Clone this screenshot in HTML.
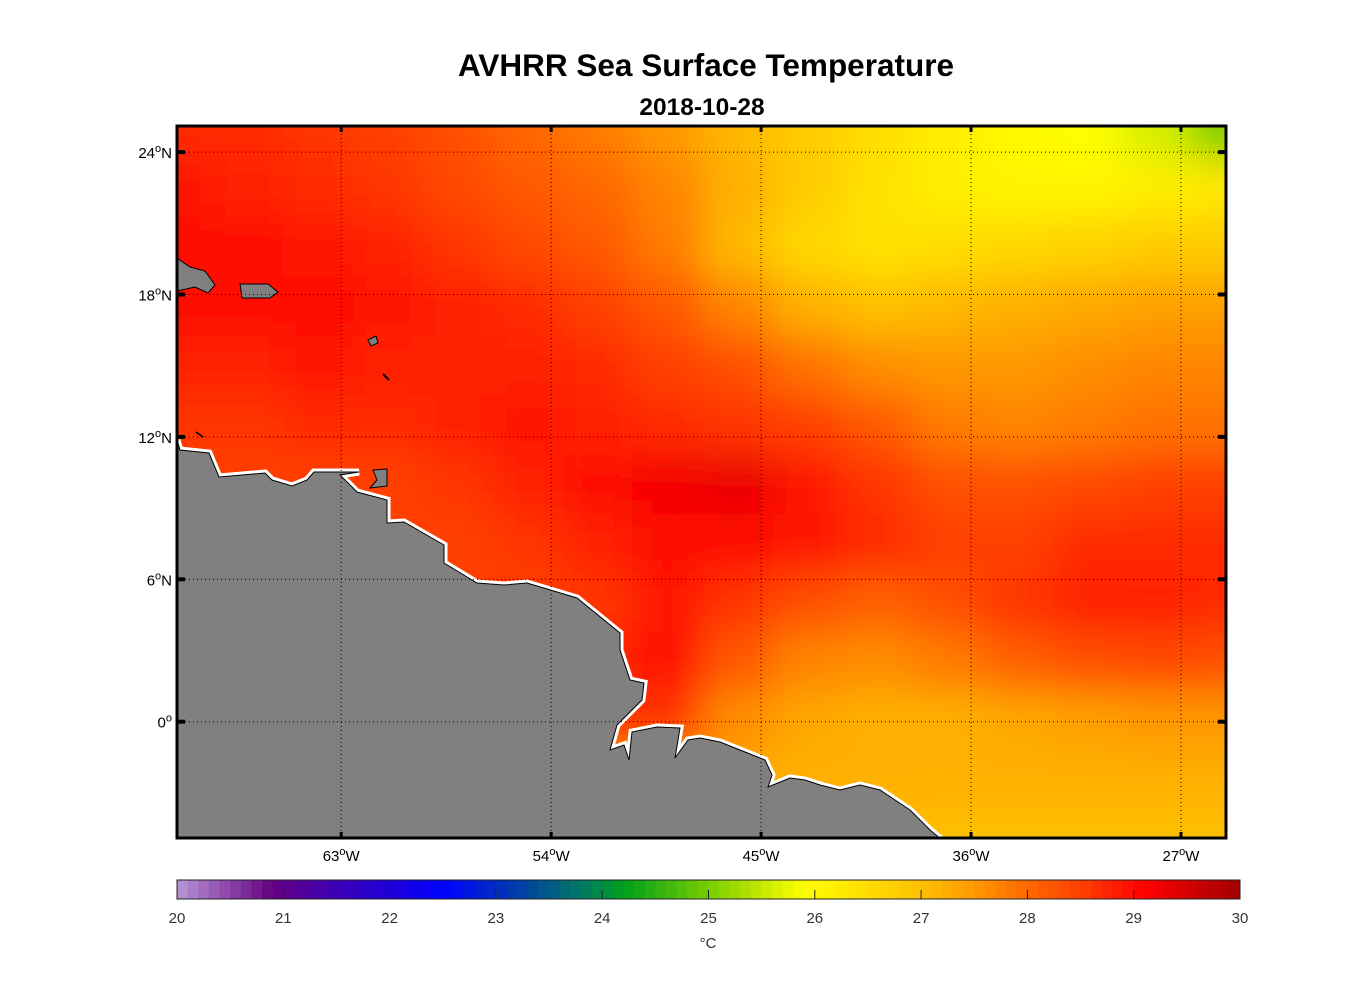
<!DOCTYPE html>
<html><head><meta charset="utf-8"><style>
html,body{margin:0;padding:0;background:#fff;}
svg{display:block;font-family:"Liberation Sans",sans-serif;}
</style></head><body>
<svg id="chart" width="1356" height="1000" viewBox="0 0 1356 1000">
<defs>
<clipPath id="mapclip"><rect x="177" y="126" width="1049" height="712"/></clipPath>
<filter id="blur" x="-10%" y="-10%" width="120%" height="120%"><feGaussianBlur stdDeviation="20"/></filter>
</defs>
<text x="706" y="76" text-anchor="middle" font-size="31.5" font-weight="bold">AVHRR Sea Surface Temperature</text>
<text x="702" y="115" text-anchor="middle" font-size="24.5" font-weight="bold">2018-10-28</text>
<g id="heat" clip-path="url(#mapclip)"><g id="cells" filter="url(#blur)"></g></g>
<g id="land" clip-path="url(#mapclip)">
<polygon points="177,440 180,450 209,453 219,477 265,473 272,480 292,486 307,480 314,472 359,472 340,475 357,492 387,500 387,523 404,522 444,545 444,563 477,583 504,585 527,583 577,598 620,633 620,650 630,680 644,683 642,700 617,725 610,750 624,745 629,760 632,732 657,727 680,728 675,758 688,740 700,738 720,742 745,752 765,760 772,775 768,787 790,778 805,780 820,785 840,790 860,785 880,790 895,800 910,810 930,830 942,840 177,840" fill="#808080" stroke="#fff" stroke-width="7" stroke-linejoin="miter"/>
<polygon points="177,440 180,450 209,453 219,477 265,473 272,480 292,486 307,480 314,472 359,472 340,475 357,492 387,500 387,523 404,522 444,545 444,563 477,583 504,585 527,583 577,598 620,633 620,650 630,680 644,683 642,700 617,725 610,750 624,745 629,760 632,732 657,727 680,728 675,758 688,740 700,738 720,742 745,752 765,760 772,775 768,787 790,778 805,780 820,785 840,790 860,785 880,790 895,800 910,810 930,830 942,840 177,840" fill="#808080" stroke="#000" stroke-width="1"/>
<polygon points="373,470 387,469 387,486 370,488 377,480" fill="#808080" stroke="#000" stroke-width="1"/>
<polygon points="177,258 190,267 205,271 215,285 208,293 195,287 177,291" fill="#808080" stroke="#000" stroke-width="1"/>
<polygon points="240,284 268,284 278,292 270,298 242,298" fill="#808080" stroke="#000" stroke-width="1"/>
<polygon points="368,340 376,336 378,343 371,346" fill="#808080" stroke="#000" stroke-width="1"/>
<line x1="383" y1="374" x2="389" y2="380" stroke="#000" stroke-width="2"/>
<line x1="196" y1="432" x2="203" y2="437" stroke="#000" stroke-width="1.5"/>
</g>
<g id="grid"></g>
<rect x="177" y="126" width="1049" height="712" fill="none" stroke="#000" stroke-width="3"/>
<g id="axes"></g>
<g id="cbar"></g>
<text x="708" y="948" text-anchor="middle" font-size="15" fill="#333">°C</text>
</svg>
<script>
const lons = [-70,-67,-64,-61,-58,-55,-52,-49,-46,-43,-40,-37,-34,-31,-28,-25];
const lats = [25,22.5,20,17.5,15,12.5,10,7.5,5,2.5,0,-2.5,-5];
const sstRow0  = [28.7,28.7,28.6,28.5,28.3,28.0,27.8,27.5,27.1,26.8,26.5,26.2,26.0,25.9,25.6,25.0];
const sstRow1  = [28.9,28.8,28.7,28.6,28.4,28.2,28.0,27.7,27.2,26.8,26.4,26.2,26.1,26.1,26.2,26.3];
const sstRow2  = [29.0,29.0,28.9,28.8,28.6,28.4,28.2,27.8,27.1,26.6,26.4,26.5,26.6,26.7,26.8,26.8];
const sstRow3  = [29.0,29.0,29.0,28.9,28.8,28.7,28.5,28.2,27.7,27.2,27.0,27.1,27.2,27.3,27.4,27.4];
const sstRow4  = [28.8,28.8,28.9,28.8,28.8,28.8,28.7,28.5,28.3,27.9,27.6,27.5,27.5,27.6,27.7,27.7];
const sstRow5  = [28.6,28.6,28.7,28.7,28.8,28.9,28.8,28.7,28.6,28.5,28.2,27.8,27.7,27.8,27.9,27.9];
const sstRow6  = [28.5,28.5,28.5,28.5,28.6,28.8,29.0,29.2,29.3,28.9,28.6,28.3,28.3,28.4,28.5,28.5];
const sstRow7  = [28.5,28.5,28.5,28.5,28.5,28.6,28.8,29.0,29.0,28.9,28.7,28.5,28.5,28.7,28.7,28.7];
const sstRow8  = [28.5,28.5,28.5,28.5,28.5,28.5,28.6,28.9,28.6,28.3,28.1,28.3,28.6,28.8,28.8,28.7];
const sstRow9  = [28.5,28.5,28.5,28.5,28.5,28.5,28.7,29.0,28.2,27.7,27.6,27.8,28.1,28.3,28.4,28.3];
const sstRow10 = [28.5,28.5,28.5,28.5,28.5,28.5,28.6,28.6,27.6,27.3,27.2,27.2,27.3,27.4,27.5,27.5];
const sstRow11 = [27.3,27.3,27.3,27.3,27.3,27.3,27.3,27.3,27.3,27.2,27.2,27.2,27.2,27.2,27.2,27.2];
const sstRow12 = [27.1,27.1,27.1,27.1,27.1,27.1,27.1,27.1,27.1,27.1,27.1,27.0,27.0,27.0,27.0,27.0];
const sst = [sstRow0,sstRow1,sstRow2,sstRow3,sstRow4,sstRow5,sstRow6,sstRow7,sstRow8,sstRow9,sstRow10,sstRow11,sstRow12];
const lonTicks = [-63,-54,-45,-36,-27];
const latTicks = [24,18,12,6,0];
const lonTickLabels = ["63","54","45","36","27"];
const latTickLabels = ["24","18","12","6","0"];
const cbTicks = [20,21,22,23,24,25,26,27,28,29,30];

const NS="http://www.w3.org/2000/svg";
const X0=177,X1=1226,Y0=126,Y1=838;
const lonMin=-70.04, lonMax=-25.07, latMax=25.1, latMin=-4.9;
const xS = lon => X0 + (lon-lonMin)/(lonMax-lonMin)*(X1-X0);
const yS = lat => Y0 + (latMax-lat)/(latMax-latMin)*(Y1-Y0);
const stops=[[20,[184,150,214]],[20.9,[100,0,130]],[21.5,[60,0,180]],[22.5,[0,0,255]],[23.2,[0,60,170]],[23.8,[0,120,100]],[24.2,[0,160,30]],[25,[120,205,0]],[25.9,[255,255,0]],[27,[255,192,0]],[27.5,[255,152,0]],[28,[255,104,0]],[28.5,[255,64,0]],[29.1,[255,0,0]],[30,[160,0,0]]];
function cmap(v){
  if(v<=stops[0][0]) return `rgb(${stops[0][1]})`;
  for(let i=1;i<stops.length;i++){ if(v<=stops[i][0]){const a=stops[i-1],b=stops[i];const t=(v-a[0])/(b[0]-a[0]);
    return `rgb(${a[1].map((c,k)=>Math.round(c+(b[1][k]-c)*t)).join(',')})`;}}
  return `rgb(${stops[stops.length-1][1]})`;
}
const cells=document.getElementById('cells');
const dlon=3, dlat=2.5;
for(let r=0;r<lats.length;r++){for(let c=0;c<lons.length;c++){
  let xa=xS(lons[c]-dlon/2), xb=xS(lons[c]+dlon/2), ya=yS(lats[r]+dlat/2), yb=yS(lats[r]-dlat/2);
  if(c===0) xa-=80; if(c===lons.length-1) xb+=80; if(r===0) ya-=80; if(r===lats.length-1) yb+=80;
  const el=document.createElementNS(NS,'rect');
  
  
  el.setAttribute('x',xa);el.setAttribute('y',ya);el.setAttribute('width',xb-xa+0.5);el.setAttribute('height',yb-ya+0.5);
  el.setAttribute('fill',cmap(sst[r][c]));cells.appendChild(el);
}}
const grid=document.getElementById('grid'), axes=document.getElementById('axes');
function ln(p,x1,y1,x2,y2,st,w,dash){const e=document.createElementNS(NS,'line');e.setAttribute('x1',x1);e.setAttribute('y1',y1);e.setAttribute('x2',x2);e.setAttribute('y2',y2);e.setAttribute('stroke',st);e.setAttribute('stroke-width',w);if(dash)e.setAttribute('stroke-dasharray',dash);p.appendChild(e);return e;}
lonTicks.forEach((lo,i)=>{const x=xS(lo);
  const g=ln(grid,x,Y0,x,Y1,'#000',1,'1,3');
  
  ln(axes,x,Y0,x,Y0+6,'#000',3);ln(axes,x,Y1,x,Y1-6,'#000',3);
  const t=document.createElementNS(NS,'text');
  
  
  t.setAttribute('x',x);t.setAttribute('y',861);t.setAttribute('text-anchor','middle');t.setAttribute('font-size','15');
  t.innerHTML=lonTickLabels[i]+'<tspan dy="-6" font-size="11">o</tspan><tspan dy="6">W</tspan>';axes.appendChild(t);});
latTicks.forEach((la,i)=>{const y=yS(la);
  const g=ln(grid,X0,y,X1,y,'#000',1,'1,3');
  
  ln(axes,X0,y,X0+8,y,'#000',4);ln(axes,X1,y,X1-8,y,'#000',4);
  const t=document.createElementNS(NS,'text');
  
  
  t.setAttribute('x',172);t.setAttribute('y',y+6);t.setAttribute('text-anchor','end');t.setAttribute('font-size','15');
  t.innerHTML=latTickLabels[i]+'<tspan dy="-6" font-size="11">o</tspan><tspan dy="6">'+(la===0?'':'N')+'</tspan>';axes.appendChild(t);});
const cb=document.getElementById('cbar');const CX0=177,CX1=1240,CY=880,CH=19;
const cx=v=>CX0+(v-20)/10*(CX1-CX0);
for(let k=0;k<100;k++){const v=20+k*0.1;const r=document.createElementNS(NS,'rect');
  
  
  r.setAttribute('x',cx(v));r.setAttribute('y',CY);r.setAttribute('width',cx(v+0.1)-cx(v)+0.5);r.setAttribute('height',CH);r.setAttribute('fill',cmap(v+0.05));cb.appendChild(r);}
const fr=document.createElementNS(NS,'rect');fr.setAttribute('x',CX0);fr.setAttribute('y',CY);fr.setAttribute('width',CX1-CX0);fr.setAttribute('height',CH);fr.setAttribute('fill','none');fr.setAttribute('stroke','#222');fr.setAttribute('stroke-width','1');cb.appendChild(fr);
cbTicks.forEach(v=>{const x=cx(v);if(v>20&&v<30)ln(cb,x,CY+CH,x,CY+CH-9,'#222',1);
  const t=document.createElementNS(NS,'text');
  
  
  t.setAttribute('x',x);t.setAttribute('y',923);t.setAttribute('text-anchor','middle');t.setAttribute('font-size','15');t.setAttribute('fill','#333');t.textContent=v;cb.appendChild(t);});
</script>
</body></html>
